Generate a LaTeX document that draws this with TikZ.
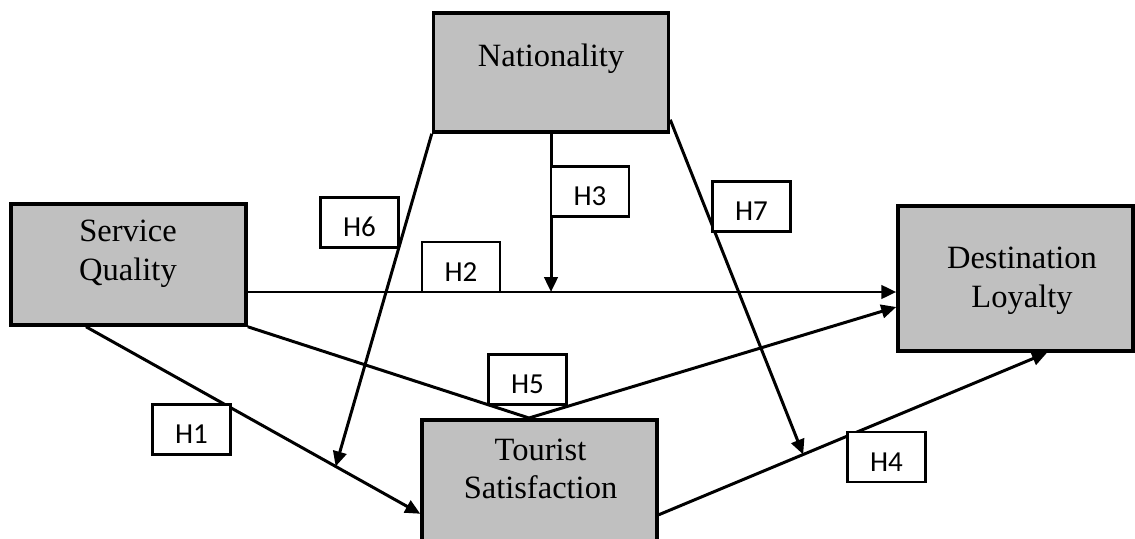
\documentclass[tikz,border=0pt]{standalone}
\usepackage{fontspec}
\setmainfont{Liberation Serif}
\newfontfamily\hypfont{Carlito}
\usepackage{xcolor}
\usepackage{tikz}
\usetikzlibrary{arrows.meta}
\definecolor{boxgray}{RGB}{192,192,192}

\begin{document}
\begin{tikzpicture}[
				construct/.style={rectangle, draw, fill=boxgray, line width=2pt, minimum width=4.7cm},
				annot/.style={align=center, inner sep=0pt, font=\fontsize{18.5}{22}\selectfont},
				hyp/.style={rectangle, draw, fill=white, line width=1.6pt, minimum width=1.56cm, minimum height=1cm, text height=0.56cm, text depth=0cm, font=\hypfont\fontsize{16.5}{19}\selectfont},
				path/.style={line width=1.7pt, -{Triangle[length=0.3cm, width=0.27cm]}}]
				\useasboundingbox (0, 0) rectangle (22.7, 10.76);
				% construct boxes
				\node[construct, minimum height=2.42cm] (sq) at (2.57, 5.47) {};
				\node[construct, minimum height=2.38cm] (nat) at (11.02, 9.31) {};
				\node[construct, minimum height=2.9cm] (dl) at (20.31, 5.19) {};
				\node[construct, minimum height=2.9cm, anchor=north] (ts) at (10.79, 2.4) {};
				% construct names
				\node[annot] (sq-t) at (2.56, 5.68) {Service\\Quality};
				\node[annot] (nat-t) at (11.02, 9.58) {Nationality};
				\node[annot] (dl-t) at (20.44, 5.14) {Destination\\Loyalty};
				\node[annot] (ts-t) at (10.81, 1.38) {Tourist\\Satisfaction};
				% moderation point on H2
				\coordinate (mid) at (11.02, 4.92);
				% direct paths
				\draw[path] (sq.east |- mid) -- (dl.west |- mid);
				\draw[path] ([xshift=-0.85cm]sq.south) -- coordinate[pos=0.747] (h1mid) ([yshift=-0.43cm]ts.west);
				\draw[path] ([yshift=-0.45cm]ts.east) -- coordinate[pos=0.372] (h4mid) ([xshift=0.63cm]dl.south);
				\draw[path] (sq.south east) -- ([xshift=-0.21cm]ts.north) -- ([yshift=-0.57cm]dl.west);
				% moderating paths
				\draw[path] (nat.south) -- (mid);
				\draw[path] (nat.south west) -- (h1mid);
				\draw[path] ([yshift=0.28cm]nat.south east) -- (h4mid);
				% hypothesis labels
				\node[hyp] (h1) at (3.83, 2.17) {H1};
				\node[hyp] (h2) at (9.22, 5.42) {H2};
				\node[hyp] (h3) at (11.8, 6.93) {H3};
				\node[hyp] (h4) at (17.73, 1.62) {H4};
				\node[hyp] (h5) at (10.55, 3.17) {H5};
				\node[hyp] (h6) at (7.19, 6.31) {H6};
				\node[hyp] (h7) at (15.03, 6.63) {H7};
\end{tikzpicture}
\end{document}
